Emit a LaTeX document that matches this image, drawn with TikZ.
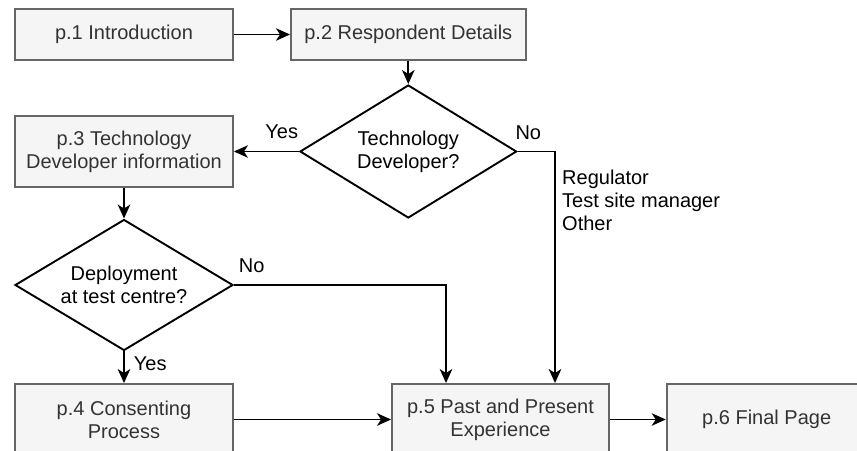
\documentclass[tikz,border=0pt]{standalone}
\usepackage{fontspec}
\setmainfont{Liberation Sans}
\usetikzlibrary{shapes.geometric,arrows.meta}
\definecolor{pagefill}{HTML}{F5F5F5}
\definecolor{pageline}{HTML}{666666}
\definecolor{pagetext}{HTML}{333333}
\tikzset{
  page/.style={draw=pageline, fill=pagefill, text=pagetext, line width=1.9pt,
    minimum width=218pt, minimum height=71pt, inner sep=0pt, align=center},
  question/.style={diamond, draw, fill=white, line width=1.9pt, aspect=1.65,
    inner sep=0pt, align=center},
  flow/.style={-{Stealth[length=14pt,width=12.5pt,inset=4pt]}, line width=1.9pt},
  lbl/.style={inner sep=0pt},
}
\begin{document}
\begin{tikzpicture}[x=1pt,y=-1pt,font=\fontsize{20}{23}\selectfont]
                \useasboundingbox (0,0) rectangle (857,450);
                \clip (0,0) rectangle (857,450);
                % \helpgrid{857}{450}
                \node[page, minimum height=51pt] (intro) at (124,34.5) {p.1 Introduction};
                \node[page, minimum height=51pt, minimum width=234.7pt] (resp) at (408.3,34.5) {p.2 Respondent Details};
                \node[question, minimum width=216.7pt, minimum height=133pt] (techdev) at (408.3,151.5) {Technology\\Developer?};
                \node[page] (techinfo) at (124,151.5) {p.3 Technology\\Developer information};
                \node[question, minimum width=218pt, minimum height=131pt] (deploy) at (124,285) {Deployment\\at test centre?};
                \node[page] (consent) at (124,419.5) {p.4 Consenting\\Process};
                \node[page, minimum width=217pt] (past) at (500.5,419.5) {p.5 Past and Present\\Experience};
                \node[page, minimum width=200pt] (final) at (766.7,419.5) {p.6 Final Page};

                \draw[flow] (intro) -- (resp);
                \draw[flow] (resp) -- (techdev);
                \draw[flow] (techdev.west) -- (techinfo.east) node [lbl, pos=0, anchor=base east, yshift=12.7pt] {Yes};
                \draw[flow] (techdev.east) -| ([xshift=54.5pt]past.north) node [lbl, pos=0, anchor=base west, shift={(-3pt,11.7pt)}] {No};
                \node[lbl, anchor=west, align=left] (roles) at (562,200.5) {Regulator\\Test site manager\\Other};
                \draw[flow] (techinfo) -- (deploy);
                \draw[flow] (deploy.east) -| ([xshift=-54.5pt]past.north) node [lbl, pos=0, anchor=base west, shift={(4pt,13pt)}] {No};
                \draw[flow] (deploy.south) -- (consent.north) node [lbl, midway, anchor=base west, shift={(9pt,-3.4pt)}] {Yes};
                \draw[flow] (consent) -- (past);
                \draw[flow] (past) -- (final);
\end{tikzpicture}
\end{document}
